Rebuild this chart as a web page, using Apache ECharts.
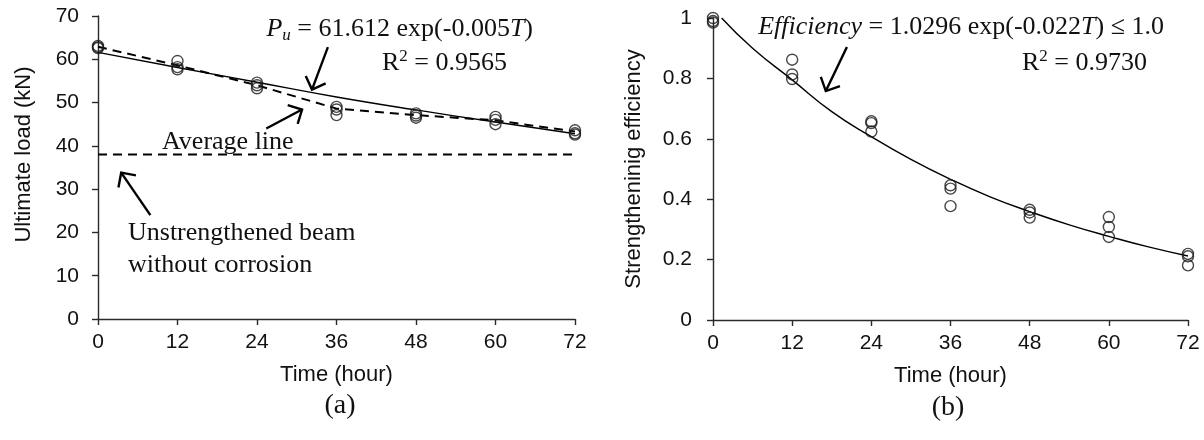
<!DOCTYPE html>
<html><head><meta charset="utf-8">
<script src="https://cdn.jsdelivr.net/npm/echarts@6/dist/echarts.min.js"></script>
<style>html,body{margin:0;padding:0;background:#fff}#c{width:1204px;height:440px}</style>
</head><body><div id="c"></div>
<script>
// ---------- data ----------
const hours = [0, 12, 24, 36, 48, 60, 72];
// (a) ultimate load (kN), three beams per exposure time
const loadRep1 = [63.1, 59.6, 54.6, 49.0, 47.5, 46.7, 43.6];
const loadRep2 = [62.8, 58.2, 54.0, 48.4, 47.0, 46.0, 42.9];
const loadRep3 = [62.6, 57.7, 53.3, 47.1, 46.5, 45.0, 42.6];
const loadAverage = [62.9, 58.6, 54.0, 48.6, 47.1, 45.9, 43.3];
const loadFit = [61.6, 58.1, 54.7, 51.3, 48.3, 45.5, 42.8];
const unstrengthenedLoad = 38.0;
const unstrengthenedHours = [0, 72];
// (b) strengthening efficiency
const effRep1 = [1.000, 0.862, 0.658, 0.446, 0.365, 0.341, 0.219];
const effRep2 = [0.990, 0.813, 0.652, 0.435, 0.356, 0.308, 0.211];
const effRep3 = [0.985, 0.798, 0.624, 0.377, 0.339, 0.275, 0.181];
const effFitHours = [1.3, 6, 12, 18, 24, 30, 36, 42, 48, 54, 60, 66, 72];
const effFit = [1.000, 0.900, 0.795, 0.690, 0.607, 0.532, 0.466, 0.408, 0.359, 0.315, 0.277, 0.242, 0.212];
// text
const xTitle = 'Time (hour)';
const yTitleA = 'Ultimate load (kN)';
const yTitleB = 'Strengtheninig efficiency';

// ---------- build ----------
const pts = (xs, ys) => xs.map((x, i) => [x, ys[i]]);
const loadPoints = [].concat(pts(hours, loadRep1), pts(hours, loadRep2), pts(hours, loadRep3));
const effPoints = [].concat(pts(hours, effRep1), pts(hours, effRep2), pts(hours, effRep3));

const SANS = '"Liberation Sans", Arial, sans-serif';
const SERIF = '"Liberation Serif", "Times New Roman", serif';
const AX = '#2a2a2a';

function xAxisCfg(gi) {
  return {
    type: 'value', gridIndex: gi, min: 0, max: 72, interval: 12,
    axisLine: { show: true, lineStyle: { color: AX, width: 1.4 } },
    axisTick: { show: true, length: 6, lineStyle: { color: AX, width: 1.4 } },
    splitLine: { show: false },
    axisLabel: { fontFamily: SANS, fontSize: 21, color: '#111', margin: 13 },
    name: xTitle, nameLocation: 'middle', nameGap: 45,
    nameTextStyle: { fontFamily: SANS, fontSize: 22, color: '#111' }
  };
}
function yAxisCfg(gi, max, interval, margin, gap, name, pad) {
  return {
    type: 'value', gridIndex: gi, min: 0, max: max, interval: interval,
    axisLine: { show: true, lineStyle: { color: AX, width: 1.4 } },
    axisTick: { show: true, length: 6, lineStyle: { color: AX, width: 1.4 } },
    splitLine: { show: false },
    axisLabel: { fontFamily: SANS, fontSize: 21, color: '#111', margin: margin },
    name: name, nameLocation: 'middle', nameGap: gap,
    nameTextStyle: { fontFamily: SANS, fontSize: 22, color: '#111', padding: pad }
  };
}

const chart = echarts.init(document.getElementById('c'), null, { renderer: 'canvas' });
const option = {
  animation: false,
  backgroundColor: '#fff',
  grid: [
    { left: 98, top: 16, width: 477, height: 303 },
    { left: 713, top: 18, width: 475, height: 302 }
  ],
  xAxis: [xAxisCfg(0), xAxisCfg(1)],
  yAxis: [
    yAxisCfg(0, 70, 10, 19, 63, yTitleA, [0, 0, 0, 26]),
    yAxisCfg(1, 1, 0.2, 21, 68, yTitleB, [0, 0, 0, 0])
  ],
  series: [
    { type: 'line', xAxisIndex: 0, yAxisIndex: 0, data: pts(unstrengthenedHours, [unstrengthenedLoad, unstrengthenedLoad]),
      showSymbol: false, lineStyle: { color: '#000', width: 2, type: [9, 6] }, z: 2 },
    { type: 'line', xAxisIndex: 0, yAxisIndex: 0, data: pts(hours, loadAverage),
      showSymbol: false, lineStyle: { color: '#000', width: 2, type: [9, 6] }, z: 2 },
    { type: 'line', xAxisIndex: 0, yAxisIndex: 0, data: pts(hours, loadFit), smooth: true,
      showSymbol: false, lineStyle: { color: '#000', width: 1.4 }, z: 2 },
    { type: 'scatter', xAxisIndex: 0, yAxisIndex: 0, data: loadPoints, symbol: 'circle', symbolSize: 11,
      itemStyle: { color: 'rgba(0,0,0,0)', borderColor: '#1a1a1a', borderWidth: 1.4 }, z: 3 },
    { type: 'line', xAxisIndex: 1, yAxisIndex: 1, data: pts(effFitHours, effFit), smooth: true,
      showSymbol: false, lineStyle: { color: '#000', width: 1.4 }, z: 2 },
    { type: 'scatter', xAxisIndex: 1, yAxisIndex: 1, data: effPoints, symbol: 'circle', symbolSize: 11,
      itemStyle: { color: 'rgba(0,0,0,0)', borderColor: '#1a1a1a', borderWidth: 1.4 }, z: 3 }
  ]
};
chart.setOption(option);

// ---------- annotations ----------
function arrow(gi, tail, tip) {
  const a = chart.convertToPixel({ gridIndex: gi }, tail);
  const b = chart.convertToPixel({ gridIndex: gi }, tip);
  const dx = a[0] - b[0], dy = a[1] - b[1];
  const L = Math.hypot(dx, dy), ux = dx / L, uy = dy / L;
  const h = 15, c = Math.cos(Math.PI / 4), s = Math.sin(Math.PI / 4);
  const l1 = [b[0] + h * (ux * c - uy * s), b[1] + h * (ux * s + uy * c)];
  const l2 = [b[0] + h * (ux * c + uy * s), b[1] + h * (-ux * s + uy * c)];
  const st = { stroke: '#000', lineWidth: 2.4, fill: null };
  return [
    { type: 'polyline', shape: { points: [a, b] }, style: st, z: 10 },
    { type: 'polyline', shape: { points: [l1, b, l2] }, style: st, z: 10 }
  ];
}
const rich = {
  r: { fontFamily: SERIF, fontSize: 26, color: '#111', lineHeight: 30 },
  i: { fontFamily: SERIF, fontSize: 26, fontStyle: 'italic', color: '#111', lineHeight: 30 },
  sub: { fontFamily: SERIF, fontSize: 17, fontStyle: 'italic', color: '#111', lineHeight: 17, verticalAlign: 'bottom' },
  sup: { fontFamily: SERIF, fontSize: 17, color: '#111', lineHeight: 17, verticalAlign: 'top' }
};
function txt(x, y, text, align) {
  return { type: 'text', x: x, y: y, z: 10,
    style: { text: text, rich: rich, fontFamily: SERIF, fontSize: 26, fill: '#111',
      align: align || 'left', verticalAlign: 'middle' } };
}
const graphics = [].concat(
  arrow(0, [34.7, 62.8], [32.3, 53.0]),
  arrow(0, [25.4, 44.0], [30.8, 48.4]),
  arrow(0, [7.9, 24.0], [3.5, 33.8]),
  arrow(1, [20.3, 0.904], [17.1, 0.758]),
  [
    txt(533, 29, '{i|P}{sub|u}{r| = 61.612 exp(-0.005}{i|T}{r|)}', 'right'),
    txt(507, 63, '{r|R}{sup|2}{r| = 0.9565}', 'right'),
    txt(162, 142, '{r|Average line}', 'left'),
    txt(128, 233, '{r|Unstrengthened beam}', 'left'),
    txt(128, 265, '{r|without corrosion}', 'left'),
    txt(1164, 27, '{i|Efficiency}{r| = 1.0296 exp(-0.022}{i|T}{r|) ≤ 1.0}', 'right'),
    txt(1147, 63, '{r|R}{sup|2}{r| = 0.9730}', 'right'),
    { type: 'text', x: 340, y: 406, z: 10, style: { text: '(a)', fontFamily: SERIF, fontSize: 28, fill: '#111', align: 'center', verticalAlign: 'middle' } },
    { type: 'text', x: 948, y: 408, z: 10, style: { text: '(b)', fontFamily: SERIF, fontSize: 28, fill: '#111', align: 'center', verticalAlign: 'middle' } }
  ]
);
chart.setOption({ graphic: graphics });
</script></body></html>
